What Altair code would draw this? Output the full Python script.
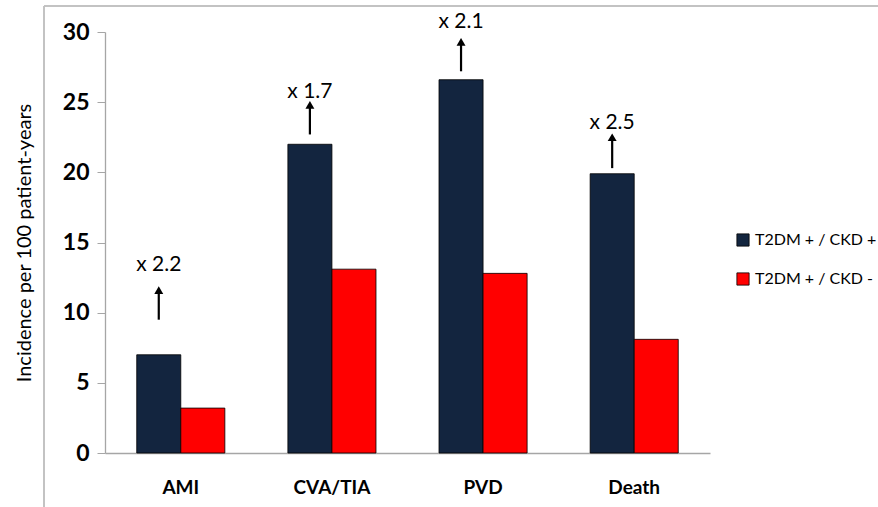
import altair as alt
import pandas as pd

categories = ["AMI", "CVA/TIA", "PVD", "Death"]
series_names = ["T2DM + / CKD +", "T2DM + / CKD -"]
ckd_pos = [7.0, 22.0, 26.6, 19.9]
ckd_neg = [3.2, 13.1, 12.8, 8.1]
ratio_labels = ["x 2.2", "x 1.7", "x 2.1", "x 2.5"]
label_y = [13.4, 25.7, 30.7, 23.5]
arrow_start = [9.5, 22.7, 27.2, 20.3]
arrow_end = [11.6, 24.8, 29.3, 22.5]
colors = ["#13253F", "#FF0000"]

rows = []
for c, a, b in zip(categories, ckd_pos, ckd_neg):
    rows.append({"cat": c, "series": series_names[0], "value": a})
    rows.append({"cat": c, "series": series_names[1], "value": b})
bars_df = pd.DataFrame(rows)

ann_df = pd.DataFrame({
    "cat": categories,
    "series": [series_names[0]] * 4,
    "label": ratio_labels,
    "ly": label_y,
    "a0": arrow_start,
    "a1": arrow_end,
})

FONT = "Lato"

x_enc = alt.X("cat:N", sort=categories,
              scale=alt.Scale(paddingInner=0.417, paddingOuter=0.21),
              axis=alt.Axis(title=None, labelAngle=0, labelFontSize=19, labelFontWeight="bold",
                            labelColor="black", labelFont=FONT, ticks=False, labelPadding=25,
                            domainColor="#A6A6A6", domainWidth=1.3))
xoff = alt.XOffset("series:N", scale=alt.Scale(domain=series_names))

bars = alt.Chart(bars_df).mark_bar(stroke="black", strokeWidth=0.8).encode(
    x=x_enc,
    xOffset=xoff,
    y=alt.Y("value:Q", scale=alt.Scale(domain=[0, 30], nice=False),
            axis=alt.Axis(title="Incidence per 100 patient-years", values=[0, 5, 10, 15, 20, 25, 30],
                          grid=False, labelFontSize=23, labelFontWeight="bold", labelColor="black",
                          labelFont=FONT, tickSize=8, tickColor="#A6A6A6", domainColor="#A6A6A6",
                          domainWidth=1.3, labelPadding=8, titleFont=FONT, titleFontSize=20,
                          titleFontWeight="normal", titleColor="black", titlePadding=28)),
    color=alt.Color("series:N", scale=alt.Scale(domain=series_names, range=colors),
                    legend=alt.Legend(title=None, orient="none", legendX=630, legendY=200,
                                      symbolType="square", symbolSize=150, symbolStrokeColor="black",
                                      symbolStrokeWidth=0.8, labelFontSize=16, labelFont=FONT,
                                      labelColor="black", rowPadding=23, labelOffset=4)),
)

arrows = alt.Chart(ann_df).mark_rule(color="black", strokeWidth=2.2).encode(
    x=alt.X("cat:N", sort=categories), xOffset=xoff,
    y=alt.Y("a0:Q"), y2="a1:Q",
)
heads = alt.Chart(ann_df).mark_point(shape="triangle-up", filled=True, color="black", size=80, opacity=1).encode(
    x=alt.X("cat:N", sort=categories), xOffset=xoff,
    y=alt.Y("a1:Q"),
)
labels = alt.Chart(ann_df).mark_text(fontSize=21, font=FONT, color="black", baseline="middle").encode(
    x=alt.X("cat:N", sort=categories), xOffset=xoff,
    y=alt.Y("ly:Q"), text="label:N",
)

frame_left = alt.Chart(ann_df).mark_rule(color="#BFBFBF", strokeWidth=1).encode(
    x=alt.value(-61), y=alt.value(-26), y2=alt.value(480))
frame_top = alt.Chart(ann_df).mark_rule(color="#BFBFBF", strokeWidth=1).encode(
    x=alt.value(-61), x2=alt.value(780), y=alt.value(-26))

chart = alt.layer(frame_left, frame_top, bars, arrows, heads, labels).properties(
    width=605, height=421,
    autosize=alt.AutoSizeParams(type="none"),
    padding={"left": 105, "top": 32, "right": 168, "bottom": 54},
).configure_view(stroke=None)

chart.save("out.html", embed_options={"renderer": "svg", "actions": False})
